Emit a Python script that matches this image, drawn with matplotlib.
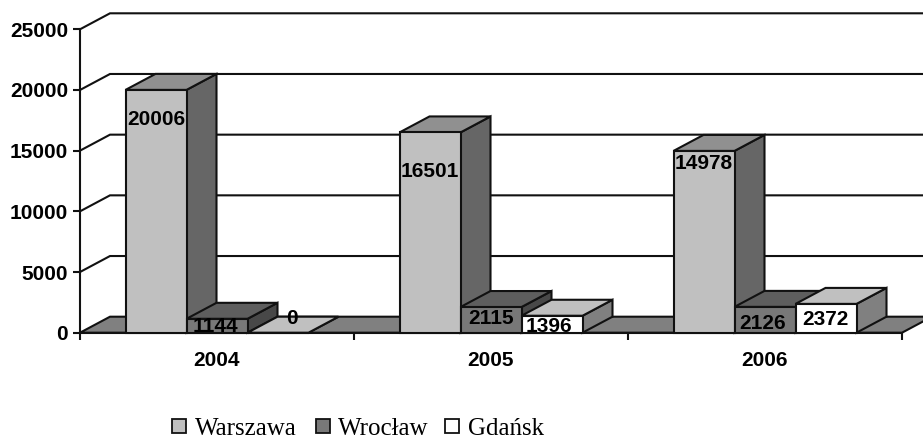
import matplotlib
matplotlib.use("Agg")
import matplotlib.pyplot as plt
from matplotlib.patches import Rectangle

categories = ["2004", "2005", "2006"]
series_names = ["Warszawa", "Wrocław", "Gdańsk"]
warszawa = [20006, 16501, 14978]
wroclaw = [1144, 2115, 2126]
gdansk = [0, 1396, 2372]
y_ticks = [0, 5000, 10000, 15000, 20000, 25000]

series_values = [warszawa, wroclaw, gdansk]
front_colors = ["#C0C0C0", "#787878", "#FFFFFF"]
top_colors = ["#909090", "#5E5E5E", "#C0C0C0"]
side_colors = ["#666666", "#484848", "#808080"]
# label offsets from the top centre of each bar's front face (pixels), hand placed as in the reference
label_offsets = [
    [(0, -30), (0, -39), (0, -13)],
    [(-2, -8), (0, -11), (-2, -17)],
    [(14, 14), (-3, -11), (-1, -16)],
]
legend_square_px = [172, 316, 445]
legend_text_px = [195, 338, 468]

W, H = 923, 436
fig = plt.figure(figsize=(W / 100, H / 100), dpi=100, facecolor="white")
L, R, B, T = 80, 902, 332.7, 29.3
ax = fig.add_axes([L / W, 1 - B / H, (R - L) / W, (B - T) / H])
ax.set_xlim(0, 3)
ax.set_ylim(0, 25000)

px_x = 3 / (R - L)
px_y = 25000 / (B - T)
dx, dy = 30 * px_x, 16 * px_y
EDGE = "#111111"
LW = 1.5
SIZE = 15

# floor
ax.fill([0, 3, 3 + dx, dx], [0, 0, dy, dy], facecolor="#808080", edgecolor=EDGE,
        lw=LW, clip_on=False, zorder=1)

# gridlines on back and side walls
for v in y_ticks[1:]:
    ax.plot([0, dx, 3 + dx], [v, v + dy, v + dy], color=EDGE, lw=LW, clip_on=False, zorder=1,
            solid_joinstyle="miter")

# bars, left to right
bar_w = 61 / 274
gap = (1 - 3 * bar_w) / 2
z = 2
for c in range(len(categories)):
    for s in range(len(series_values)):
        v = series_values[s][c]
        x0 = c + gap + s * bar_w
        x1 = x0 + bar_w
        ax.fill([x1, x1 + dx, x1 + dx, x1], [0, dy, v + dy, v], facecolor=side_colors[s],
                edgecolor=EDGE, lw=LW, clip_on=False, zorder=z)
        ax.fill([x0, x1, x1 + dx, x0 + dx], [v, v, v + dy, v + dy], facecolor=top_colors[s],
                edgecolor=EDGE, lw=LW, clip_on=False, zorder=z)
        ax.bar(x0, v, width=bar_w, align="edge", color=front_colors[s], edgecolor=EDGE,
               lw=LW, clip_on=False, zorder=z)
        z += 1

# data labels
for s in range(len(series_values)):
    for c in range(len(categories)):
        v = series_values[s][c]
        xc = c + gap + (s + 0.5) * bar_w
        ox, oy = label_offsets[s][c]
        ax.annotate(str(v), (xc, v), xytext=(ox * 0.72, oy * 0.72), textcoords="offset points",
                    ha="center", va="center", fontsize=SIZE, fontweight="bold",
                    family="Liberation Sans", color="black", zorder=50, annotation_clip=False)

# axes
for sp in ["top", "right"]:
    ax.spines[sp].set_visible(False)
for sp in ["left", "bottom"]:
    ax.spines[sp].set_linewidth(LW)
    ax.spines[sp].set_color(EDGE)
    ax.spines[sp].set_zorder(1.5)
ax.patch.set_alpha(0)
ax.set_yticks(y_ticks)
ax.set_yticklabels([str(v) for v in y_ticks], family="Liberation Sans", fontweight="bold", fontsize=SIZE)
ax.set_xticks([0, 1, 2, 3])
ax.set_xticklabels([])
ax.set_xticks([0.5, 1.5, 2.5], labels=categories, minor=True, family="Liberation Sans",
              fontweight="bold", fontsize=SIZE)
ax.tick_params(axis="both", which="major", length=5, width=LW, color=EDGE)
ax.tick_params(axis="y", pad=3.6)
ax.tick_params(axis="x", which="minor", length=0, pad=13)

# legend
for i, name in enumerate(series_names):
    fig.add_artist(Rectangle((legend_square_px[i] / W, 1 - 433 / H), 14 / W, 14 / H,
                             transform=fig.transFigure, facecolor=front_colors[i],
                             edgecolor=EDGE, lw=1.3))
    fig.text(legend_text_px[i] / W, 1 - 434.5 / H, name, family="Liberation Serif", fontsize=18,
             ha="left", va="baseline", color="black")

fig.savefig("out.png", dpi=100)
